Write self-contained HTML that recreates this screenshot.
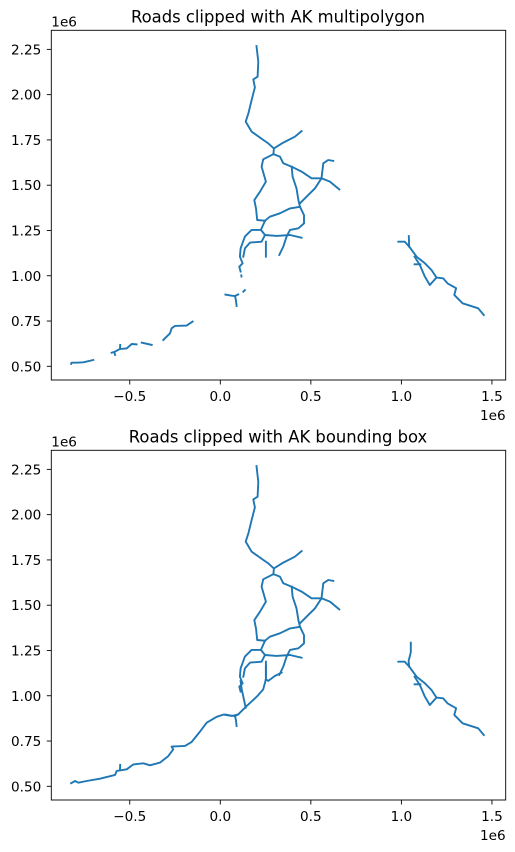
<!DOCTYPE html>
<html><head><meta charset="utf-8"><style>
html,body{margin:0;padding:0;background:#fff;}
svg{display:block;font-family:"DejaVu Sans","Liberation Sans",sans-serif;}
</style></head><body>
<svg id="fig" width="515" height="852" viewBox="0 0 515 852" xmlns="http://www.w3.org/2000/svg"></svg>
<script>
const xTicks=[-0.5,0.0,0.5,1.0,1.5];
const xTickLabels=["\u22120.5","0.0","0.5","1.0","1.5"];
const yTicks=[0.5,0.75,1.0,1.25,1.5,1.75,2.0,2.25];
const yTickLabels=["0.50","0.75","1.00","1.25","1.50","1.75","2.00","2.25"];
const titles=["Roads clipped with AK multipolygon","Roads clipped with AK bounding box"];
// shared road network (x,y in 1e6 units)
const commonRoads=[
 [[0.20,2.268],[0.210,2.182],[0.206,2.099],[0.182,2.084],[0.191,2.040],[0.173,1.970],[0.155,1.897],[0.140,1.851],[0.173,1.796],[0.237,1.750],[0.265,1.731],[0.296,1.703],[0.293,1.672]],
 [[0.296,1.703],[0.348,1.735],[0.412,1.768],[0.449,1.799]],
 [[0.293,1.672],[0.237,1.643],[0.228,1.602],[0.252,1.520],[0.219,1.464],[0.188,1.418],[0.197,1.372],[0.204,1.308],[0.247,1.304]],
 [[0.293,1.672],[0.329,1.658],[0.348,1.621],[0.394,1.602],[0.449,1.575],[0.504,1.538],[0.559,1.538],[0.605,1.520],[0.657,1.477]],
 [[0.559,1.538],[0.569,1.621],[0.596,1.639],[0.624,1.634]],
 [[0.559,1.538],[0.523,1.483],[0.477,1.437],[0.440,1.400]],
 [[0.394,1.602],[0.399,1.547],[0.421,1.483],[0.431,1.418],[0.440,1.381]],
 [[0.247,1.304],[0.274,1.326],[0.329,1.345],[0.385,1.372],[0.440,1.381],[0.462,1.335],[0.462,1.289],[0.431,1.262],[0.385,1.253],[0.366,1.216],[0.348,1.161],[0.326,1.115]],
 [[0.247,1.304],[0.224,1.253],[0.247,1.225],[0.311,1.220],[0.385,1.225],[0.449,1.210]],
 [[0.224,1.253],[0.173,1.253],[0.136,1.216],[0.112,1.151],[0.108,1.105],[0.123,1.069],[0.105,1.050],[0.112,1.023]],
 [[0.247,1.225],[0.228,1.188],[0.164,1.183],[0.136,1.151],[0.127,1.105]],
 [[0.252,1.188],[0.252,1.105]],
 [[0.028,0.896],[0.063,0.890],[0.081,0.888],[0.099,0.897]],
 [[0.081,0.888],[0.086,0.866],[0.090,0.833]],
 [[0.983,1.188],[1.019,1.188],[1.043,1.161],[1.084,1.105],[1.130,1.069],[1.166,1.032],[1.194,0.990],[1.230,0.986],[1.255,0.958],[1.302,0.931],[1.292,0.894],[1.338,0.848],[1.424,0.820],[1.455,0.783]],
 [[1.073,1.105],[1.102,1.059],[1.130,0.995],[1.157,0.949],[1.194,0.990]],
 [[1.073,1.063],[1.105,1.063]]
];
const topOnlyRoads=[
 [[1.043,1.161],[1.041,1.219]],
 [[0.116,1.002],[0.117,0.996]],
 [[0.127,0.912],[0.136,0.921]],
 [[-0.153,0.747],[-0.186,0.725],[-0.250,0.723],[-0.269,0.710],[-0.278,0.682],[-0.315,0.645]],
 [[-0.379,0.618],[-0.434,0.631]],
 [[-0.462,0.621],[-0.489,0.623],[-0.517,0.599],[-0.554,0.596],[-0.581,0.581],[-0.600,0.575]],
 [[-0.553,0.618],[-0.554,0.596]],
 [[-0.585,0.575],[-0.581,0.563]],
 [[-0.701,0.535],[-0.756,0.522],[-0.793,0.520],[-0.821,0.520],[-0.824,0.513]]
];
const bottomOnlyRoads=[
 [[1.043,1.161],[1.040,1.192],[1.052,1.240],[1.052,1.293]],
 [[-0.824,0.517],[-0.802,0.529],[-0.784,0.520],[-0.738,0.529],[-0.664,0.542],[-0.581,0.563],[-0.572,0.585],[-0.517,0.594],[-0.480,0.621],[-0.425,0.627],[-0.388,0.616],[-0.333,0.631],[-0.287,0.667],[-0.260,0.704],[-0.269,0.719],[-0.195,0.723],[-0.158,0.745],[-0.112,0.802],[-0.075,0.851],[-0.020,0.884],[0.017,0.896],[0.063,0.888],[0.099,0.897],[0.145,0.943],[0.201,0.995],[0.237,1.035],[0.252,1.091],[0.252,1.164]],
 [[0.140,0.934],[0.118,1.036],[0.112,1.082]],
 [[0.252,1.091],[0.265,1.082],[0.301,1.109],[0.339,1.128]],
 [[-0.553,0.618],[-0.554,0.596]]
];
const NS="http://www.w3.org/2000/svg";
const fig=document.getElementById('fig');
function mk(tag,attrs,parent){const e=document.createElementNS(NS,tag);for(const k in attrs)e.setAttribute(k,attrs[k]);(parent||fig).appendChild(e);return e;}
const L=51.3,R=505.7,S=181.1;
function sx(v){return 220.3+v*S;}
function drawPanel(idx,off,roads){
 const g=mk('g',{});
 
 
 const top=30.3+off,bot=380+off;
 const sy=v=>366.3+off-(v-0.5)*S;
 const t=mk('text',{x:278,y:22.6+off,'text-anchor':'middle','font-size':16.4,fill:'#000'},g);
 t.textContent=titles[idx];
 
 
 roads.forEach(r=>{
  const p=mk('polyline',{points:r.map(q=>sx(q[0]).toFixed(1)+','+sy(q[1]).toFixed(1)).join(' '),fill:'none',stroke:'#1f77b4','stroke-width':1.9,'stroke-linejoin':'round','stroke-linecap':'square'},g);
  
  
 });
 const fr=mk('rect',{x:L,y:top,width:R-L,height:bot-top,fill:'none',stroke:'#000','stroke-width':0.9},g);
 
 
 xTicks.forEach((v,i)=>{
  mk('line',{x1:sx(v),x2:sx(v),y1:bot,y2:bot+4.5,stroke:'#000','stroke-width':0.9},g);
  const tx=mk('text',{x:sx(v),y:bot+21,'text-anchor':'middle','font-size':13.6},g);
  tx.textContent=xTickLabels[i];
  
  
 });
 yTicks.forEach((v,i)=>{
  mk('line',{x1:L-4.5,x2:L,y1:sy(v),y2:sy(v),stroke:'#000','stroke-width':0.9},g);
  const ty=mk('text',{x:L-10,y:sy(v)+5,'text-anchor':'end','font-size':13.6},g);
  ty.textContent=yTickLabels[i];
  
  
 });
 const ox=mk('text',{x:R,y:bot+40,'text-anchor':'end','font-size':13.6},g);
 ox.textContent='1e6';
 
 
 const oy=mk('text',{x:L,y:top-4,'font-size':13.6},g);
 oy.textContent='1e6';
 
 
}
drawPanel(0,0,commonRoads.concat(topOnlyRoads));
drawPanel(1,420,commonRoads.concat(bottomOnlyRoads));
</script>
</body></html>
